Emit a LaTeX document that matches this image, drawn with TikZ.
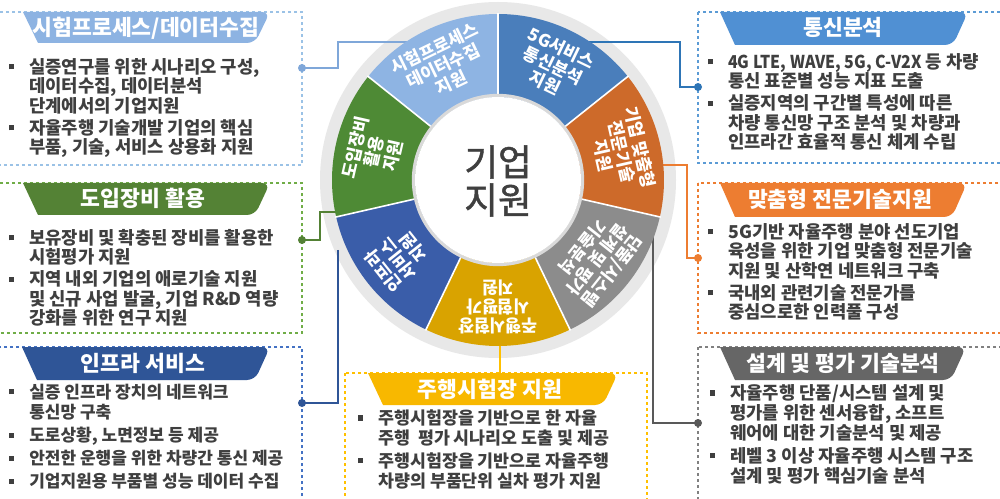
\documentclass[tikz,border=0pt]{standalone}
\usepackage{fontspec}
\setmainfont{Noto Sans CJK KR}
\newfontfamily\krmid{Noto Sans CJK KR}[FakeBold=1.2]
\definecolor{lbSeg}{HTML}{8EB4E3}
\definecolor{lbLine}{HTML}{7FA7D9}
\definecolor{lbBox}{HTML}{9BC2E6}
\definecolor{lbHead}{HTML}{8DB3E2}
\definecolor{bSeg}{HTML}{4A7EBB}
\definecolor{bLine}{HTML}{2E75B6}
\definecolor{bBox}{HTML}{5B9BD5}
\definecolor{bHead}{HTML}{5090D3}
\definecolor{oSeg}{HTML}{CD6A2A}
\definecolor{oLine}{HTML}{ED7D31}
\definecolor{oHead}{HTML}{ED7D31}
\definecolor{gSeg}{HTML}{8C8C8C}
\definecolor{gLine}{HTML}{595959}
\definecolor{gBox}{HTML}{808080}
\definecolor{gHead}{HTML}{666666}
\definecolor{ySeg}{HTML}{D9A300}
\definecolor{yLine}{HTML}{FFC000}
\definecolor{yHead}{HTML}{F8B800}
\definecolor{dbSeg}{HTML}{3A5DA9}
\definecolor{dbLine}{HTML}{2F5597}
\definecolor{dbBox}{HTML}{4472C4}
\definecolor{dbHead}{HTML}{2F5597}
\definecolor{gnSeg}{HTML}{4E8A35}
\definecolor{gnLine}{HTML}{538135}
\definecolor{gnBox}{HTML}{70AD47}
\definecolor{gnHead}{HTML}{548235}
\definecolor{txt}{HTML}{3F3F3F}
\definecolor{ringc}{HTML}{E8E8E8}
\newcommand\mkbul{\makebox[15pt][l]{\raisebox{3pt}{\rule{3.8pt}{3.8pt}}}}
\newcommand\bl[1]{\hbox{\mkbul#1}}
\newcommand\cl[1]{\hbox{\hspace*{15pt}#1}}
\newcommand\gp{\vskip 1.9pt}
\newcommand\lns[2]{\vtop{\baselineskip=#1\lineskiplimit=-30pt\lineskip=0pt #2}}
\newcommand\hdr[5]{\fill[#1] (#2,#4) -- (#2+15,#5) [rounded corners=6] -- (#3-15,#5) -- (#3,#4) [sharp corners] -- cycle;}
\begin{document}
\begin{tikzpicture}[x=0.75pt,y=0.75pt,
  dbox/.style={dash pattern=on 2.5pt off 2pt, line width=0.8pt},
  conn/.style={line width=1.5pt},
  body/.style={anchor=base west, inner sep=0pt, text=txt, font=\fontsize{13.3}{14.6}\selectfont\bfseries},
  ttl/.style={anchor=base, inner sep=0pt, text=white, font=\fontsize{16.2}{18}\selectfont\bfseries},
  seglab/.style={align=center, inner sep=0pt, text=white, font=\fontsize{12.9}{14.3}\selectfont\bfseries}]
\useasboundingbox (0,0) rectangle (1000,-499);
\clip (0,0) rectangle (1000,-499);
\fill[white] (0,0) rectangle (1000,-499);

% dashed boxes
\draw[dbox, lbBox] (-5,-12) rectangle (302,-165);
\draw[dbox, gnBox] (-5,-183) rectangle (302,-333);
\draw[dbox, dbBox] (-5,-347) rectangle (302,-520);
\draw[dbox, bBox] (698,-12) rectangle (1010,-163);
\draw[dbox, oLine] (698,-183) rectangle (1010,-333);
\draw[dbox, gBox] (698,-347) rectangle (1010,-520);
\draw[dbox, yLine] (345,-373) rectangle (647,-520);

% headers
\hdr{lbHead}{23}{270}{-12}{-43}
\hdr{gnHead}{23}{270}{-183}{-215}
\hdr{dbHead}{22}{270}{-347}{-380}
\hdr{bHead}{720}{968}{-12}{-45}
\hdr{oHead}{720}{967}{-183}{-217}
\hdr{gHead}{720}{966}{-347}{-380}
\hdr{yHead}{368}{618}{-373}{-405}

\node[ttl] (h1) at (146,-36) {시험프로세스/데이터수집};
\node[ttl] (h2) at (143,-207) {도입장비 활용};
\node[ttl] (h3) at (143,-371) {인프라 서비스};
\node[ttl] (h4) at (843,-36) {통신분석};
\node[ttl] (h5) at (840,-208) {맞춤형 전문기술지원};
\node[ttl] (h6) at (843,-371) {설계 및 평가 기술분석};
\node[ttl] (h7) at (490,-397) {주행시험장 지원};

% body texts
\node[body] (t1) at (9,-73.5) {\lns{14.6pt}{\bl{실증연구를 위한 시나리오 구성,}\cl{데이터수집, 데이터분석}\cl{단계에서의 기업지원}\gp\bl{자율주행 기술개발 기업의 핵심}\cl{부품, 기술, 서비스 상용화 지원}}};
\node[body] (t2) at (9,-244.5) {\lns{14.6pt}{\bl{보유장비 및 확충된 장비를 활용한}\cl{시험평가 지원}\gp\bl{지역 내외 기업의 애로기술 지원}\cl{및 신규 사업 발굴, 기업 R\&D 역량}\cl{강화를 위한 연구 지원}}};
\node[body, font=\fontsize{12.75}{14}\selectfont\bfseries] (t3) at (9,-398) {\lns{15.4pt}{\bl{실증 인프라 장치의 네트워크}\cl{통신망 구축}\gp\bl{도로상황, 노면정보 등 제공}\gp\bl{안전한 운행을 위한 차량간 통신 제공}\gp\bl{기업지원용 부품별 성능 데이터 수집}}};
\node[body] (t4) at (708,-68.5) {\lns{14.6pt}{\bl{\scalebox{0.9}[1]{4G LTE, WAVE, 5G, C-V2X} 등 차량}\cl{통신 표준별 성능 지표 도출}\gp\bl{실증지역의 구간별 특성에 따른}\cl{차량 통신망 구조 분석 및 차량과}\cl{인프라간 효율적 통신 체계 수립}}};
\node[body] (t5) at (708,-238.5) {\lns{14.6pt}{\bl{5G기반 자율주행 분야 선도기업}\cl{육성을 위한 기업 맞춤형 전문기술}\cl{지원 및 산학연 네트워크 구축}\gp\bl{국내외 관련기술 전문가를}\cl{중심으로한 인력풀 구성}}};
\node[body] (t6) at (710,-399.5) {\lns{15pt}{\bl{자율주행 단품/시스템 설계 및}\cl{평가를 위한 센서융합, 소프트}\cl{웨어에 대한 기술분석 및 제공}\gp\bl{레벨 3 이상 자율주행 시스템 구조}\cl{설계 및 평가 핵심기술 분석}}};
\node[body, font=\fontsize{13}{14.6}\selectfont\bfseries] (t7) at (358,-424.5) {\lns{15pt}{\bl{주행시험장을 기반으로 한 자율}\cl{주행\ \ 평가 시나리오 도출 및 제공}\gp\bl{주행시험장을 기반으로 자율주행}\cl{차량의 부품단위 실차 평가 지원}}};

% wheel ring
\coordinate (ctr) at (498,-180);
\fill[ringc] (ctr) circle[radius=178];

% connectors
\coordinate (dot1) at (302,-68);  \coordinate (w1) at (420,-42);
\coordinate (dot2) at (698,-87);  \coordinate (w2) at (580,-42);
\coordinate (dot3) at (698,-258); \coordinate (w3) at (650,-165);
\coordinate (dot4) at (698,-423); \coordinate (w4) at (653,-235);
\coordinate (dot5) at (500,-373); \coordinate (w5) at (500,-330);
\coordinate (dot6) at (302,-403); \coordinate (w6) at (338,-250);
\coordinate (dot7) at (302,-240); \coordinate (w7) at (340,-212);
\draw[conn, lbLine] (dot1) -- ++(36,0) |- (w1);
\draw[conn, bLine] (w2) -- ++(100,0) |- (dot2);
\draw[conn, oLine] (w3) -- ++(37,0) |- (dot3);
\draw[conn, gLine] (w4) |- (dot4);
\draw[conn, yLine] (w5) -- (dot5);
\draw[conn, dbLine] (w6) |- (dot6);
\draw[conn, gnLine] (w7) -- ++(-20,0) |- (dot7);
\fill[lbLine] (dot1) circle[radius=4];
\fill[bLine] (dot2) circle[radius=4];
\fill[oLine] (dot3) circle[radius=4];
\fill[gLine] (dot4) circle[radius=4];
\fill[dbLine] (dot6) circle[radius=4];
\fill[gnLine] (dot7) circle[radius=4];

% wheel segments
\begin{scope}[shift={(498,-180)}]
\fill[lbSeg] (0,0) -- (90:166) arc[start angle=90, end angle=141.43, radius=166] -- cycle;
\fill[bSeg] (0,0) -- (38.57:166) arc[start angle=38.57, end angle=90, radius=166] -- cycle;
\fill[oSeg] (0,0) -- (-12.86:166) arc[start angle=-12.86, end angle=38.57, radius=166] -- cycle;
\fill[gSeg] (0,0) -- (-64.29:166) arc[start angle=-64.29, end angle=-12.86, radius=166] -- cycle;
\fill[ySeg] (0,0) -- (-115.71:166) arc[start angle=-115.71, end angle=-64.29, radius=166] -- cycle;
\fill[dbSeg] (0,0) -- (-167.14:166) arc[start angle=-167.14, end angle=-115.71, radius=166] -- cycle;
\fill[gnSeg] (0,0) -- (141.43:166) arc[start angle=141.43, end angle=192.86, radius=166] -- cycle;
\foreach \a in {90,38.57,-12.86,-64.29,-115.71,-167.14,141.43}
  \draw[white, line width=1.2pt] (0,0) -- (\a:167);
\draw[black!15, line width=2.5pt] (0,0) circle[radius=84.5];
\fill[white] (0,0) circle[radius=83];
\node[seglab, rotate=25.71] (s1) at (115.71:127) {시험프로세스\\데이터수집\\지원};
\node[seglab, rotate=-25.71] (s2) at (64.29:127) {5G서비스\\통신분석\\지원};
\node[seglab, rotate=-77.14] (s3) at (12.86:127) {기업 맞춤형\\전문기술\\지원};
\node[seglab, rotate=-128.57] (s4) at (-38.57:127) {단품/시스템\\설계 및 평가\\기술분석};
\node[seglab, rotate=180] (s5) at (-90:127) {주행시험장\\시험평가\\지원};
\node[seglab, rotate=128.57] (s6) at (-141.43:127) {인프라\\서비스\\지원};
\node[seglab, rotate=77.14] (s7) at (167.14:127) {도입장비\\활용\\지원};
\node[align=center, inner sep=0pt, text=txt, font=\fontsize{27.5}{28.5}\selectfont\krmid] (core) at (0,-1) {기업\\지원};
\end{scope}
\end{tikzpicture}
\end{document}
